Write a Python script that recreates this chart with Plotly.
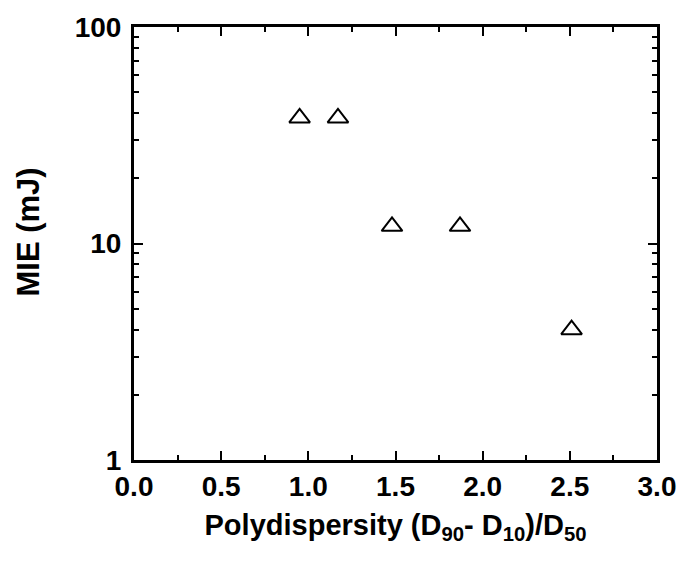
import plotly.graph_objects as go

# Polydispersity vs minimum ignition energy
polydispersity = [0.95, 1.17, 1.48, 1.87, 2.51]
mie_mj = [38, 38, 12, 12, 4]

x_ticks = [0.0, 0.5, 1.0, 1.5, 2.0, 2.5, 3.0]
x_tick_text = ["0.0", "0.5", "1.0", "1.5", "2.0", "2.5", "3.0"]
y_ticks = [1, 10, 100]
y_tick_text = ["1", "10", "100"]
y_minor = [2, 3, 4, 5, 6, 7, 8, 9, 20, 30, 40, 50, 60, 70, 80, 90]

FONT = "Liberation Sans, Arial, sans-serif"

fig = go.Figure()
fig.add_trace(go.Scatter(
    x=polydispersity,
    y=mie_mj,
    mode="markers",
    marker=dict(symbol="triangle-up-open", size=18, color="black",
                line=dict(color="black", width=2)),
    showlegend=False,
))

axis_common = dict(
    showline=True, linecolor="black", linewidth=3, mirror="allticks",
    ticks="inside", ticklen=9, tickwidth=2, tickcolor="black",
    showgrid=False, zeroline=False,
    tickfont=dict(family=FONT, size=28, color="black", weight="bold"),
)

fig.update_xaxes(
    range=[0, 3],
    tickvals=x_ticks, ticktext=x_tick_text,
    minor=dict(ticks="inside", ticklen=5, tickwidth=2, tickcolor="black", dtick=0.25, showgrid=False),
    title=dict(text="Polydispersity (D<sub>90</sub>- D<sub>10</sub>)/D<sub>50</sub>",
               font=dict(family=FONT, size=29, color="black", weight="bold"), standoff=15),
    ticklabelstandoff=-1,
    **axis_common,
)
fig.update_yaxes(
    type="log", range=[0, 2],
    tickvals=y_ticks, ticktext=y_tick_text,
    minor=dict(ticks="inside", ticklen=5, tickwidth=2, tickcolor="black", tickvals=y_minor, showgrid=False),
    ticklabelstandoff=4,
    **axis_common,
)

# y-axis title placed as a rotated annotation left of the tick labels
fig.add_annotation(
    text="MIE (mJ)", textangle=-90,
    xref="paper", yref="paper", x=0, y=0.5,
    xanchor="center", yanchor="middle",
    xshift=-106, yshift=11, showarrow=False,
    font=dict(family=FONT, size=31, color="black", weight="bold"),
)

fig.update_layout(
    width=688, height=566,
    margin=dict(l=134, r=25, t=24, b=106),
    paper_bgcolor="white", plot_bgcolor="white",
)

fig.write_html("out.html")
